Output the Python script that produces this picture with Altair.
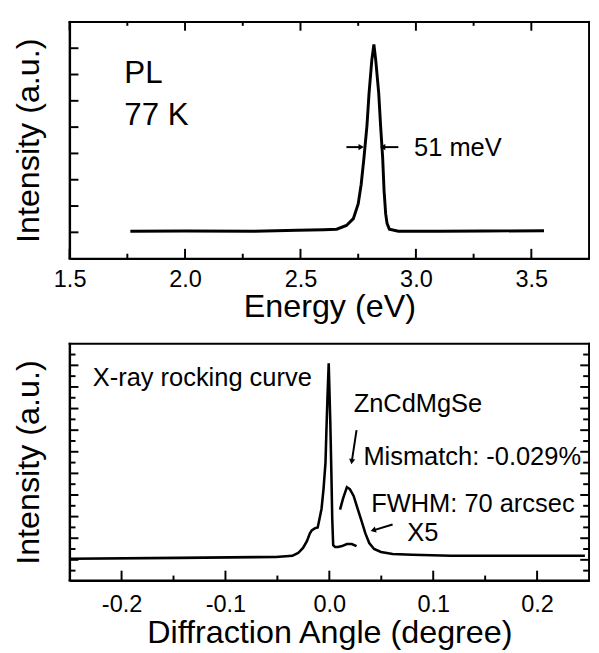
import altair as alt
import pandas as pd

FONT = "Liberation Sans"

# ---------------- PL spectrum (top) ----------------
pl_energy = [1.763, 2.0, 2.3, 2.487, 2.60, 2.657, 2.699, 2.729, 2.750, 2.763, 2.775, 2.788,
             2.797, 2.809, 2.818, 2.826, 2.839, 2.847, 2.856, 2.862, 2.869, 2.875, 2.885,
             2.924, 3.1, 3.3, 3.555]
pl_intensity = [1.04, 1.05, 1.04, 1.08, 1.10, 1.12, 1.26, 1.52, 2.08, 2.83, 3.83, 5.06,
                6.28, 7.55, 8.14, 7.55, 6.28, 5.06, 3.83, 2.60, 1.71, 1.34, 1.12,
                1.04, 1.04, 1.05, 1.06]

top_x_domain = [1.5, 3.75]
top_y_domain = [0, 9]
top_x_major = [1.5, 2.0, 2.5, 3.0, 3.5]
top_x_minor = [1.75, 2.25, 2.75, 3.25]
top_y_ticks = [1, 2, 3, 4, 5, 6, 7, 8]

top_labels = ["PL", "77 K"]
top_labels_x = [1.737, 1.737]
top_labels_y = [6.69, 5.09]
fwhm_label = ["51 meV"]
fwhm_label_x = [2.992]
fwhm_label_y = [3.90]
fwhm_arrow_start = [2.699, 2.924]
fwhm_arrow_end = [2.763, 2.856]
fwhm_arrow_y = [4.24, 4.24]
fwhm_arrow_shape = ["triangle-right", "triangle-left"]

# ---------------- X-ray rocking curve (bottom) ----------------
xrc_angle = [-0.249, -0.145, -0.0515, -0.0356, -0.030, -0.0253, -0.0216, -0.0187, -0.0169,
             -0.0141, -0.0112, -0.0094, -0.0075, -0.0056, -0.0037, -0.0028, -0.0019, -0.0006,
             0.0009, 0.0019, 0.0028, 0.0037, 0.0056, 0.0084, 0.0122, 0.0169, 0.0216, 0.0262]
xrc_intensity = [1.09, 1.18, 1.27, 1.37, 1.63, 2.10, 2.72, 3.45, 3.73,
                 3.91, 4.00, 4.82, 5.73, 7.55, 10.0, 13.0, 15.72, 19.18,
                 13.87, 9.35, 4.82, 2.36, 2.18, 2.18, 2.27, 2.46, 2.46, 2.27]

x5_angle = [0.0103, 0.0131, 0.0169, 0.0197, 0.0234, 0.0272, 0.0309, 0.0347, 0.0384,
            0.0431, 0.0497, 0.0609, 0.0797, 0.117, 0.173, 0.246]
x5_intensity = [5.64, 6.64, 7.73, 7.55, 6.91, 5.73, 4.63, 3.45, 2.55,
                2.00, 1.73, 1.54, 1.46, 1.37, 1.37, 1.37]

bot_x_domain = [-0.25, 0.25]
bot_y_domain = [-0.91, 21.0]
bot_x_major = [-0.2, -0.1, 0.0, 0.1, 0.2]
bot_x_minor = [-0.15, -0.05, 0.05, 0.15]
bot_y_major = [1, 3, 5, 7, 9, 11, 13, 15, 17, 19]
bot_y_minor = [0, 2, 4, 6, 8, 10, 12, 14, 16, 18, 20]

bot_labels = ["X-ray rocking curve", "ZnCdMgSe", "Mismatch: -0.029%", "FWHM: 70 arcsec", "X5"]
bot_labels_x = [-0.2277, 0.0234, 0.0328, 0.0403, 0.075]
bot_labels_y = [17.09, 14.64, 9.82, 5.45, 2.72]
bot_arrow_x_start = [0.0262, 0.0609]
bot_arrow_y_start = [13.0, 4.27]
bot_arrow_x_end = [0.0216, 0.0422]
bot_arrow_y_end = [10.09, 3.73]
bot_arrow_shape = ["triangle-down", "triangle-left"]
bot_arrow_angle = [9, 343]

W, H = 531, 242
MAJ, MIN = 10, 5
YT = 9

label_expr = "(datum.value < 0 ? '-' : '') + format(abs(datum.value), '.1f')"


def x_axis(title, lpad, values):
    return alt.Axis(values=values, labelExpr=label_expr, title=title,
                    ticks=False, tickSize=0, domain=True, domainColor="black", domainWidth=2,
                    grid=False,
                    labelFontSize=24, titleFontSize=33, labelPadding=lpad,
                    titlePadding=0, labelFlush=False, labelOverlap=False,
                    labelColor="black", titleColor="black",
                    titleFontWeight="normal", labelFont=FONT, titleFont=FONT)


def y_axis():
    return alt.Axis(title="Intensity (a.u.)", labels=False, ticks=False,
                    domain=True, domainColor="black", domainWidth=2, grid=False,
                    titleFontSize=33, titlePadding=25,
                    titleColor="black", titleFontWeight="normal", titleFont=FONT)


def x_top():
    return alt.X("energy:Q", scale=alt.Scale(domain=top_x_domain, nice=False, zero=False),
                 axis=x_axis("Energy (eV)", 9, top_x_major))


def y_top():
    return alt.Y("intensity:Q", scale=alt.Scale(domain=top_y_domain, nice=False, zero=False), axis=y_axis())


def x_bot():
    return alt.X("angle:Q", scale=alt.Scale(domain=bot_x_domain, nice=False, zero=False),
                 axis=x_axis("Diffraction Angle (degree)", 13, bot_x_major))


def y_bot():
    return alt.Y("intensity:Q", scale=alt.Scale(domain=bot_y_domain, nice=False, zero=False), axis=y_axis())


def frame(xname, xdom, xenc, ydom, yenc):
    x0, x1 = xdom
    y0, y1 = ydom
    df = pd.DataFrame({
        xname: [x0, x1, x0, x0],
        xname + "2": [x0, x1, x1, x1],
        "intensity": [y0, y0, y0, y1],
        "intensity2": [y1, y1, y0, y1],
    })
    return alt.Chart(df).mark_rule(color="black", strokeWidth=2, strokeCap="square").encode(
        x=xenc(), x2=alt.X2(xname + "2"), y=yenc(), y2=alt.Y2("intensity2"))


# ---------- top panel ----------
pl_df = pd.DataFrame({"energy": pl_energy, "intensity": pl_intensity})
pl_line = alt.Chart(pl_df).mark_line(color="black", strokeWidth=3).encode(x=x_top(), y=y_top())

tx_maj = pd.DataFrame({"energy": top_x_major})
tx_min = pd.DataFrame({"energy": top_x_minor})
ty = pd.DataFrame({"intensity": top_y_ticks})

top_ticks = [
    alt.Chart(tx_maj).mark_rule(color="black", strokeWidth=2).encode(x=x_top(), y=alt.value(H), y2=alt.value(H - MAJ)),
    alt.Chart(tx_min).mark_rule(color="black", strokeWidth=2).encode(x=x_top(), y=alt.value(H), y2=alt.value(H - MIN)),
    alt.Chart(tx_maj).mark_rule(color="black", strokeWidth=2).encode(x=x_top(), y=alt.value(0), y2=alt.value(MAJ - 1)),
    alt.Chart(tx_min).mark_rule(color="black", strokeWidth=2).encode(x=x_top(), y=alt.value(0), y2=alt.value(MIN - 1)),
    alt.Chart(ty).mark_rule(color="black", strokeWidth=2).encode(y=y_top(), x=alt.value(0), x2=alt.value(YT)),
]

top_txt_df = pd.DataFrame({"energy": top_labels_x, "intensity": top_labels_y, "label": top_labels})
top_txt = alt.Chart(top_txt_df).mark_text(align="left", baseline="alphabetic", fontSize=32,
                                          font=FONT, color="black").encode(
    x=x_top(), y=y_top(), text="label:N")

fwhm_df = pd.DataFrame({"energy": fwhm_label_x, "intensity": fwhm_label_y, "label": fwhm_label})
fwhm_txt = alt.Chart(fwhm_df).mark_text(align="left", baseline="alphabetic", fontSize=26,
                                        font=FONT, color="black").encode(
    x=x_top(), y=y_top(), text="label:N")

arr_df = pd.DataFrame({"energy": fwhm_arrow_start, "energy2": fwhm_arrow_end,
                       "intensity": fwhm_arrow_y})
arr_shaft = alt.Chart(arr_df).mark_rule(color="black", strokeWidth=2).encode(
    x=x_top(), x2="energy2:Q", y=y_top())
arr_head_df = pd.DataFrame({"energy": fwhm_arrow_end, "intensity": fwhm_arrow_y,
                            "shape": fwhm_arrow_shape})
arr_head = alt.Chart(arr_head_df).mark_point(filled=True, color="black", size=40, opacity=1).encode(
    x=x_top(), y=y_top(),
    shape=alt.Shape("shape:N", scale=None, legend=None))

top = alt.layer(pl_line, frame("energy", top_x_domain, x_top, top_y_domain, y_top),
                *top_ticks, top_txt, fwhm_txt, arr_shaft, arr_head).properties(width=W, height=H)

# ---------- bottom panel ----------
xrc_df = pd.DataFrame({"angle": xrc_angle, "intensity": xrc_intensity})
x5_df = pd.DataFrame({"angle": x5_angle, "intensity": x5_intensity})
xrc_line = alt.Chart(xrc_df).mark_line(color="black", strokeWidth=2.6).encode(x=x_bot(), y=y_bot())
x5_line = alt.Chart(x5_df).mark_line(color="black", strokeWidth=2.6).encode(x=x_bot(), y=y_bot())

bx_maj = pd.DataFrame({"angle": bot_x_major})
bx_min = pd.DataFrame({"angle": bot_x_minor})
by_maj = pd.DataFrame({"intensity": bot_y_major})
by_min = pd.DataFrame({"intensity": bot_y_minor})

bot_ticks = [
    alt.Chart(bx_maj).mark_rule(color="black", strokeWidth=2).encode(x=x_bot(), y=alt.value(H), y2=alt.value(H - MAJ)),
    alt.Chart(bx_min).mark_rule(color="black", strokeWidth=2).encode(x=x_bot(), y=alt.value(H), y2=alt.value(H - MIN)),
    alt.Chart(by_maj).mark_rule(color="black", strokeWidth=2).encode(y=y_bot(), x=alt.value(0), x2=alt.value(YT)),
    alt.Chart(by_min).mark_rule(color="black", strokeWidth=2).encode(y=y_bot(), x=alt.value(0), x2=alt.value(YT - 3)),
    alt.Chart(by_maj).mark_rule(color="black", strokeWidth=2).encode(y=y_bot(), x=alt.value(W), x2=alt.value(W - YT)),
    alt.Chart(by_min).mark_rule(color="black", strokeWidth=2).encode(y=y_bot(), x=alt.value(W), x2=alt.value(W - YT + 3)),
]

bot_txt_df = pd.DataFrame({"angle": bot_labels_x, "intensity": bot_labels_y, "label": bot_labels})
bot_txt = alt.Chart(bot_txt_df).mark_text(align="left", baseline="alphabetic", fontSize=26,
                                          font=FONT, color="black").encode(
    x=x_bot(), y=y_bot(), text="label:N")

barr_df = pd.DataFrame({"angle": bot_arrow_x_start, "angle2": bot_arrow_x_end,
                        "intensity": bot_arrow_y_start, "intensity2": bot_arrow_y_end})
barr_shaft = alt.Chart(barr_df).mark_rule(color="black", strokeWidth=2).encode(
    x=x_bot(), x2="angle2:Q", y=y_bot(), y2="intensity2:Q")
barr_head_df = pd.DataFrame({"angle": bot_arrow_x_end, "intensity": bot_arrow_y_end,
                             "shape": bot_arrow_shape, "rot": bot_arrow_angle})
barr_head = alt.Chart(barr_head_df).mark_point(filled=True, color="black", size=40, opacity=1).encode(
    x=x_bot(), y=y_bot(),
    shape=alt.Shape("shape:N", scale=None, legend=None),
    angle=alt.Angle("rot:Q", scale=None))

bottom = alt.layer(xrc_line, x5_line, frame("angle", bot_x_domain, x_bot, bot_y_domain, y_bot),
                   *bot_ticks, bot_txt, barr_shaft, barr_head).properties(width=W, height=H)

chart = alt.vconcat(top, bottom, spacing=19).properties(
    padding={"left": 5, "top": 5, "right": 0, "bottom": 0}
).configure(font=FONT, background="white").configure_view(strokeWidth=0)

chart.save("out.html", embed_options={"renderer": "svg", "actions": False})
